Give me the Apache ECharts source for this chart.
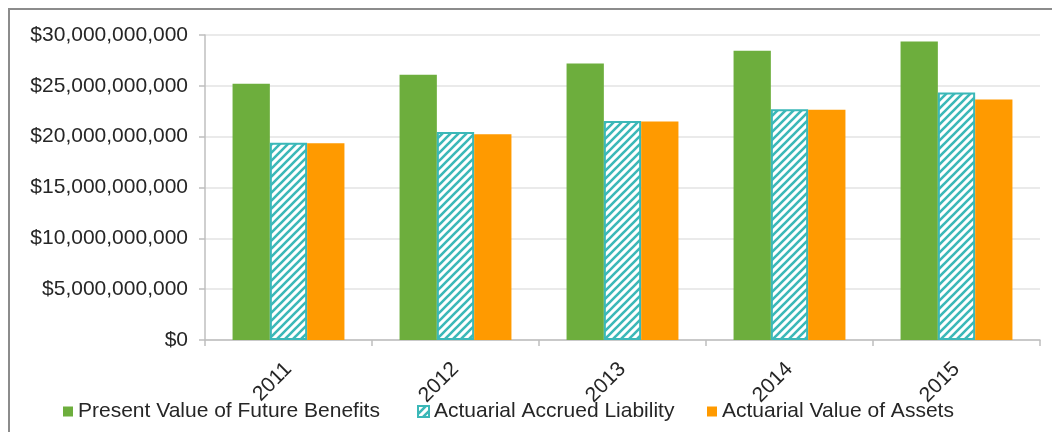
<!DOCTYPE html>
<html>
<head>
<meta charset="utf-8">
<script src="https://cdn.jsdelivr.net/npm/echarts@6/dist/echarts.min.js"></script>
<style>
  html, body { margin: 0; padding: 0; background: #ffffff; }
  #chart { width: 1052px; height: 432px; }
</style>
</head>
<body>
<div id="chart"></div>
<script>
// Plan funding figures by valuation year (dollars)
const years = ['2011', '2012', '2013', '2014', '2015'];
const presentValueFutureBenefits = [25.2e9, 26.1e9, 27.2e9, 28.45e9, 29.35e9];
const actuarialAccruedLiability = [19.4e9, 20.45e9, 21.55e9, 22.7e9, 24.35e9];
const actuarialValueAssets = [19.35e9, 20.25e9, 21.5e9, 22.65e9, 23.65e9];
const seriesNames = ['Present Value of Future Benefits', 'Actuarial Accrued Liability', 'Actuarial Value of Assets'];

const GREEN = '#6DAE3D';
const TEAL = '#3BB8B8';
const ORANGE = '#FF9A00';
const FONT = "'Liberation Sans', Arial, sans-serif";

// Diagonal "/" hatch tile for the liability bars
function hatchTile() {
  const s = 8;
  const c = document.createElement('canvas');
  c.width = s; c.height = s;
  const g = c.getContext('2d');
  g.fillStyle = '#ffffff';
  g.fillRect(0, 0, s, s);
  g.strokeStyle = TEAL;
  g.lineWidth = 2.6;
  g.beginPath();
  g.moveTo(-2, s + 2); g.lineTo(s + 2, -2);
  g.moveTo(-2, 2); g.lineTo(2, -2);
  g.moveTo(s - 2, s + 2); g.lineTo(s + 2, s - 2);
  g.stroke();
  return c;
}

function dollars(v) {
  return '$' + Math.round(v).toString().replace(/\B(?=(\d{3})+(?!\d))/g, ',');
}

// One legend block per series so each entry sits at its own x
function legendAt(left, name, size) {
  return {
    left: left, top: 401, padding: 0,
    itemWidth: size, itemHeight: size,
    icon: 'rect',
    textStyle: { fontFamily: FONT, fontSize: 21, color: '#262626' },
    data: [name]
  };
}

const chart = echarts.init(document.getElementById('chart'), null, { renderer: 'canvas' });

chart.setOption({
  animation: false,
  backgroundColor: '#ffffff',
  textStyle: { fontFamily: FONT },
  graphic: [{
    type: 'rect',
    shape: { x: 9, y: 9, width: 1200, height: 600 },
    style: { fill: 'none', stroke: '#8C8C8C', lineWidth: 2 },
    silent: true
  }],
  grid: { left: 205, right: 12, top: 35, bottom: 92, containLabel: false },
  legend: [
    legendAt(63, seriesNames[0], 10),
    legendAt(417, seriesNames[1], 11),
    legendAt(707, seriesNames[2], 10)
  ],
  xAxis: {
    type: 'category',
    data: years,
    axisLine: { lineStyle: { color: '#BFBFBF', width: 1.5 } },
    axisTick: { show: true, alignWithLabel: false, length: 6, lineStyle: { color: '#BFBFBF', width: 1.5 } },
    axisLabel: { rotate: 45, margin: 26, fontFamily: FONT, fontSize: 21, color: '#262626' }
  },
  yAxis: {
    type: 'value',
    min: 0, max: 30e9, interval: 5e9,
    axisLine: { show: true, lineStyle: { color: '#BFBFBF', width: 1.5 } },
    axisTick: { show: true, length: 6, lineStyle: { color: '#BFBFBF', width: 1.5 } },
    splitLine: { lineStyle: { color: '#E3E3E3', width: 1.5 } },
    axisLabel: { margin: 17, fontFamily: FONT, fontSize: 21, color: '#262626', formatter: dollars }
  },
  series: [
    {
      name: seriesNames[0], type: 'bar', data: presentValueFutureBenefits,
      barGap: '0%', barCategoryGap: '33%',
      itemStyle: { color: GREEN }
    },
    {
      name: seriesNames[1], type: 'bar', data: actuarialAccruedLiability,
      barGap: '0%', barCategoryGap: '33%',
      itemStyle: { color: { image: hatchTile(), repeat: 'repeat' }, borderColor: TEAL, borderWidth: 2 }
    },
    {
      name: seriesNames[2], type: 'bar', data: actuarialValueAssets,
      barGap: '0%', barCategoryGap: '33%',
      itemStyle: { color: ORANGE }
    }
  ]
});
</script>
</body>
</html>
